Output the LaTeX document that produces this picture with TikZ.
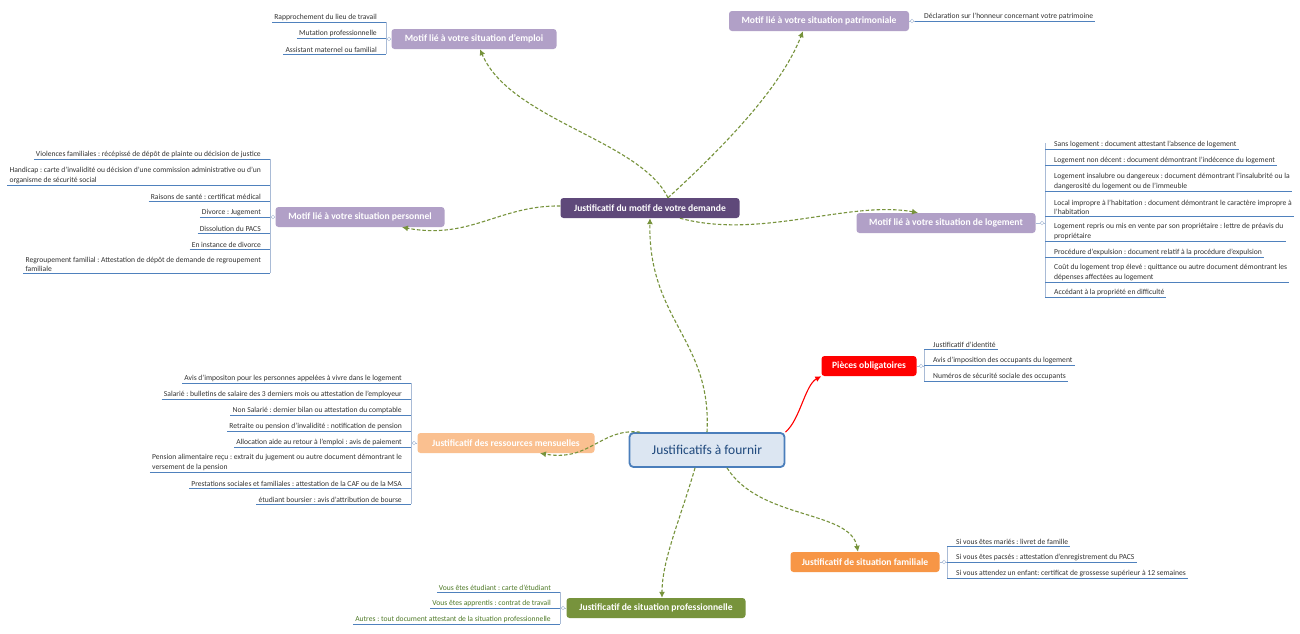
\documentclass[tikz,border=0pt]{standalone}
\usepackage{fontspec}
\setmainfont{Carlito}
\frenchspacing
\usetikzlibrary{arrows.meta}
\definecolor{cgreen}{HTML}{77933C}
\definecolor{uline}{HTML}{4F81BD}
\definecolor{brk}{HTML}{A9BBD6}
\definecolor{purp}{HTML}{B1A0C7}
\definecolor{dpurp}{HTML}{5F497A}
\definecolor{peach}{HTML}{FAC090}
\definecolor{orng}{HTML}{F79646}
\definecolor{cblue}{HTML}{4A7EBB}
\definecolor{cfill}{HTML}{DCE6F2}
\definecolor{ctext}{HTML}{1F497D}
\definecolor{ltext}{HTML}{333333}
\definecolor{gtext}{HTML}{4F7A28}
\tikzset{
  leaf/.style={font=\fontsize{7.6}{9.2}\selectfont, text=ltext, inner xsep=2pt, inner ysep=1.4pt, align=left},
  ul/.style={draw=uline, line width=1pt},
  brkline/.style={draw=brk, line width=0.7pt, rounded corners=2pt},
  branch/.style={rounded corners=3pt, text=white, font=\fontsize{9.6}{11}\selectfont\bfseries, minimum height=20pt, inner sep=1pt},
  conn/.style={draw=cgreen, line width=1.1pt, dash pattern=on 3.5pt off 2pt, -{Latex[length=6pt,width=6pt]}},
  redconn/.style={draw=red, line width=1.1pt, -{Latex[length=6pt,width=6pt]}},
}
\newcommand\leafL[5][]{\node[leaf,anchor=south east,#1] (#2) at ({#3-7},#4) {#5};
  \draw[ul] (#2.south west) -- (#3,#4);}
\newcommand\leafR[5][]{\node[leaf,anchor=south west,#1] (#2) at ({#3+7},#4) {#5};
  \draw[ul] (#3,#4) -- (#2.south east);}
\newcommand\bracketline[3]{\draw[brkline] (#1,#2) -- (#1,#3);}
\begin{document}
\begin{tikzpicture}[x=1pt,y=-1pt]
\useasboundingbox[fill=white] (0,0) rectangle (1300,633);

% main nodes
\node[draw=cblue, fill=cfill, line width=1.8pt, rounded corners=4pt, minimum width=155pt, minimum height=34pt, text=ctext, font=\fontsize{13.5}{15}\selectfont] (center) at (707,450) {Justificatifs à fournir};
\node[branch, fill=dpurp, minimum width=179pt] (motif) at (650,208) {Justificatif du motif de votre demande};
\node[branch, fill=purp, minimum width=165pt] (emploi) at (474,39) {Motif lié à votre situation d'emploi};
\node[branch, fill=purp, minimum width=180pt] (patri) at (819,21) {Motif lié à votre situation patrimoniale};
\node[branch, fill=purp, minimum width=169pt] (perso) at (360,217) {Motif lié à votre situation personnel};
\node[branch, fill=purp, minimum width=179pt] (loge) at (946,223) {Motif lié à votre situation de logement};
\node[branch, fill=red, minimum width=95pt] (pieces) at (869,366) {Pièces obligatoires};
\node[branch, fill=peach, minimum width=177pt] (ress) at (506,443) {Justificatif des ressources mensuelles};
\node[branch, fill=orng, minimum width=149pt] (fam) at (865,562) {Justificatif de situation familiale};
\node[branch, fill=cgreen, minimum width=179pt] (prof) at (656,608) {Justificatif de situation professionnelle};

% connectors
\draw[conn] (center.north) .. controls (712,340) and (648,320) .. (motif.south);
\draw[conn] ([xshift=18pt]motif.north) .. controls (640,140) and (510,120) .. ([xshift=6pt]emploi.south);
\draw[conn] ([xshift=18pt]motif.north) .. controls (720,150) and (780,90) .. ([xshift=-16pt]patri.south);
\draw[conn] ([yshift=2pt]motif.west) .. controls (500,205) and (470,240) .. ([xshift=42pt]perso.south);
\draw[conn] ([xshift=30pt]motif.south) .. controls (760,240) and (850,200) .. ([xshift=-28pt]loge.north);
\draw[conn] ([xshift=-67pt]center.north) .. controls (600,428) and (590,462) .. ([xshift=34pt]ress.south);
\draw[conn] ([xshift=20pt]center.south) .. controls (760,520) and (850,510) .. ([xshift=-7pt]fam.north);
\draw[conn] ([xshift=-12pt]center.south) .. controls (680,520) and (662,560) .. ([xshift=6pt]prof.north);
\draw[redconn] (center.north east) .. controls (800,420) and (805,385) .. (pieces.south west);

% emploi leaves
\bracketline{386}{22}{54}
\leafL{e1}{386}{22}{Rapprochement du lieu de travail}
\leafL{e2}{386}{38}{Mutation professionnelle}
\leafL{e3}{386}{54}{Assistant maternel ou familial}
\draw[brkline] (386,39) -- (emploi.west); \draw[brk,fill=white] (389,39) circle (1.8pt);

% patrimoniale
\leafR{p1}{915}{21}{Déclaration sur l'honneur concernant votre patrimoine}
\draw[brkline] (915,21) -- (patri.east); \draw[brk,fill=white] (912,21) circle (1.8pt);

% personnel
\bracketline{270}{159}{273}
\leafL{s1}{270}{159}{Violences familiales : récépissé de dépôt de plainte ou décision de justice}
\leafL{s2}{270}{185}{Handicap : carte d'invalidité ou décision d'une commission administrative ou d'un\\organisme de sécurité social}
\leafL{s3}{270}{201}{Raisons de santé : certificat médical}
\leafL{s4}{270}{217}{Divorce : Jugement}
\leafL{s5}{270}{233}{Dissolution du PACS}
\leafL{s6}{270}{249}{En instance de divorce}
\leafL{s7}{270}{273}{Regroupement familial : Attestation de dépôt de demande de regroupement\\familiale}
\draw[brkline] (270,217) -- (perso.west); \draw[brk,fill=white] (273,217) circle (1.8pt);

% logement
\bracketline{1045}{143}{297}
\leafR{l1}{1045}{149}{Sans logement : document attestant l'absence de logement}
\leafR{l2}{1045}{165}{Logement non décent : document démontrant l'indécence du logement}
\leafR{l3}{1045}{191}{Logement insalubre ou dangereux : document démontrant l'insalubrité ou la\\dangerosité du logement ou de l'immeuble}
\leafR{l4}{1045}{216}{Local impropre à l'habitation : document démontrant le caractère impropre à\\l'habitation}
\leafR{l5}{1045}{241}{Logement repris ou mis en vente par son propriétaire : lettre de préavis du\\propriétaire}
\leafR{l6}{1045}{257}{Procédure d'expulsion : document relatif à la procédure d'expulsion}
\leafR{l7}{1045}{282}{Coût du logement trop élevé : quittance ou autre document démontrant les\\dépenses affectées au logement}
\leafR{l8}{1045}{297}{Accédant à la propriété en difficulté}
\draw[brkline] (1045,223) -- (loge.east); \draw[brk,fill=white] (1042,223) circle (1.8pt);

% pieces
\bracketline{924}{349}{381}
\leafR{q1}{924}{349}{Justificatif d'identité}
\leafR{q2}{924}{365}{Avis d'imposition des occupants du logement}
\leafR{q3}{924}{381}{Numéros de sécurité sociale des occupants}
\draw[brkline] (924,366) -- (pieces.east); \draw[brk,fill=white] (921,366) circle (1.8pt);

% ressources
\bracketline{411}{383}{504}
\leafL{r1}{411}{383}{Avis d'impositon pour les personnes appelées à vivre dans le logement}
\leafL{r2}{411}{399}{Salarié : bulletins de salaire des 3 derniers mois ou attestation de l'employeur}
\leafL{r3}{411}{415}{Non Salarié : dernier bilan ou attestation du comptable}
\leafL{r4}{411}{431}{Retraite ou pension d'invalidité : notification de pension}
\leafL{r5}{411}{447}{Allocation aide au retour à l'emploi : avis de paiement}
\leafL{r6}{411}{472}{Pension alimentaire reçu : extrait du jugement ou autre document démontrant le\\versement de la pension}
\leafL{r7}{411}{488}{Prestations sociales et familiales : attestation de la CAF ou de la MSA}
\leafL{r8}{411}{504}{étudiant boursier : avis d'attribution de bourse}
\draw[brkline] (411,443) -- (ress.west); \draw[brk,fill=white] (414,443) circle (1.8pt);

% familiale
\bracketline{947}{546}{578}
\leafR{f1}{947}{546}{Si vous êtes mariés : livret de famille}
\leafR{f2}{947}{562}{Si vous êtes pacsés : attestation d'enregistrement du PACS}
\leafR{f3}{947}{578}{Si vous attendez un enfant: certificat de grossesse supérieur à 12 semaines}
\draw[brkline] (947,562) -- (fam.east); \draw[brk,fill=white] (944,562) circle (1.8pt);

% professionnelle
\bracketline{560}{592}{624}
\leafL[text=gtext]{g1}{560}{592}{Vous êtes étudiant : carte d'étudiant}
\leafL[text=gtext]{g2}{560}{608}{Vous êtes apprentis : contrat de travail}
\leafL[text=gtext]{g3}{560}{624}{Autres : tout document attestant de la situation professionnelle}
\draw[brkline] (560,608) -- (prof.west); \draw[brk,fill=white] (563,608) circle (1.8pt);
\end{tikzpicture}
\end{document}
